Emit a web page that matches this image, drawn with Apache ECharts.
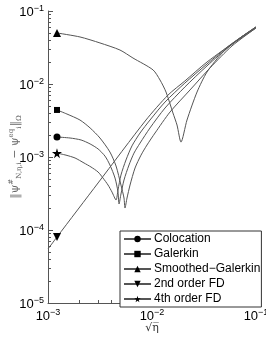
<!DOCTYPE html>
<html><head><meta charset="utf-8">
<script src="https://cdn.jsdelivr.net/npm/echarts@6/dist/echarts.min.js"></script>
<style>html,body{margin:0;padding:0;background:#fff}#c{width:266px;height:341px}</style>
</head><body><div id="c"></div>
<script>
// ---- data ----
const colocationX = [0.00122,0.00163,0.00208,0.00254,0.00303,0.00353,0.00394,0.00441,0.00471,0.00482,0.00503,0.00538,0.00601,0.00671,0.00767,0.00957,0.01334,0.0207,0.0338,0.0562,0.1];
const colocationY = [0.00188,0.00182,0.00171,0.00151,0.00129,0.00103,0.000777,0.000515,0.000332,0.000227,0.000311,0.000484,0.000777,0.00113,0.00155,0.00250,0.00469,0.0091,0.0177,0.0332,0.0585];

const galerkinX = [0.00122,0.00152,0.00203,0.00254,0.00316,0.00394,0.00451,0.00503,0.00538,0.00550,0.00575,0.00615,0.00687,0.00784,0.00895,0.01069,0.01490,0.0232,0.0361,0.0588,0.1];
const galerkinY = [0.00441,0.00388,0.00321,0.00250,0.00182,0.00117,0.000753,0.000413,0.000274,0.000200,0.000274,0.000413,0.000707,0.00106,0.00146,0.00213,0.00413,0.00828,0.0166,0.0332,0.0585];

const smoothedX = [0.00122,0.00203,0.00316,0.00492,0.00656,0.01023,0.01194,0.01364,0.0159,0.0174,0.0190,0.0217,0.0271,0.0338,0.0482,0.0702,0.1];
const smoothedY = [0.0500,0.0441,0.0365,0.0292,0.0227,0.0156,0.01135,0.00776,0.00401,0.00274,0.0016,0.00321,0.00776,0.0146,0.0274,0.0427,0.0604];

const fd2X = [0.001,0.00122,0.00303,0.00875,0.01426,0.0207,0.0338,0.0702,0.1];
const fd2Y = [0.0000549,0.0000802,0.000441,0.00321,0.00706,0.0110,0.0200,0.0427,0.0604];

const fd4X = [0.00122,0.00149,0.00182,0.00222,0.00259,0.00303,0.00338,0.00378,0.00412,0.00451,0.00471,0.00503,0.00562,0.00642,0.00767,0.00957,0.01334,0.0207,0.0338,0.0562,0.1];
const fd4Y = [0.00113,0.00106,0.000969,0.000828,0.00073,0.000623,0.000515,0.000413,0.000332,0.000258,0.000353,0.000566,0.00091,0.00142,0.00213,0.00321,0.00566,0.0103,0.0188,0.0342,0.0604];

const seriesNames = ['Colocation','Galerkin','Smoothed\u2212Galerkin','2nd order FD','4th order FD'];
const xTicks = [0.001, 0.01, 0.1];
const yTicks = [0.00001, 0.0001, 0.001, 0.01, 0.1];

// ---- helpers ----
const STAR = 'path://M50,0 L61,35 L98,35 L68,57 L79,91 L50,70 L21,91 L32,57 L2,35 L39,35 Z';
function makeData(xs, ys, markerIdx) {
  return xs.map((x, i) => i === markerIdx ? [x, ys[i]] : { value: [x, ys[i]], symbol: 'none' });
}
function minorValues(ticks) {
  const out = [];
  for (let k = 0; k < ticks.length - 1; k++) {
    for (let m = 2; m <= 9; m++) out.push(m * ticks[k]);
  }
  return out;
}
function expLabel(v) {
  const e = Math.round(Math.log10(v));
  return '{b|10}{s|' + (e < 0 ? '\u2212' + (-e) : e) + '}';
}
const labelRich = {
  b: { fontSize: 13, fontFamily: 'Liberation Sans, Arial, sans-serif', color: '#000', lineHeight: 16, verticalAlign: 'bottom' },
  s: { fontSize: 9, fontFamily: 'Liberation Sans, Arial, sans-serif', color: '#000', lineHeight: 16, verticalAlign: 'bottom', padding: [0, 0, 6, 0] }
};
const lineColor = '#555';
function lineSeries(name, xs, ys, markerIdx, symbol, size, rotate) {
  return {
    type: 'line', name: name, data: makeData(xs, ys, markerIdx),
    symbol: symbol, symbolSize: size, symbolRotate: rotate || 0, showAllSymbol: true,
    smooth: 0.25, lineStyle: { color: lineColor, width: 1 }, itemStyle: { color: '#000' },
    emphasis: { disabled: true }, z: 3
  };
}

const chart = echarts.init(document.getElementById('c'), null, { renderer: 'canvas' });
const yMin = yTicks[0], xMin = xTicks[0];
chart.setOption({
  animation: false,
  backgroundColor: '#fff',
  grid: { left: 48, right: 10, top: 11, bottom: 38, containLabel: false, outerBoundsMode: 'none' },
  legend: {
    data: seriesNames, orient: 'vertical', left: 120, top: 231,
    itemWidth: 27, itemHeight: 8, itemGap: 3, padding: [2, 1, 2, 3],
    borderColor: '#333', borderWidth: 1, backgroundColor: '#fff',
    textStyle: { fontSize: 12, lineHeight: 11, fontFamily: 'Liberation Sans, Arial, sans-serif', color: '#000', padding: [0, 0, 0, -2] },
    selectedMode: false, z: 10
  },
  xAxis: {
    type: 'log', logBase: 10, min: xTicks[0], max: xTicks[xTicks.length - 1],
    axisLine: { lineStyle: { color: '#555', width: 1 } },
    axisTick: { inside: true, length: 5, lineStyle: { color: '#555' } },
    splitLine: { show: false }, minorTick: { show: false },
    axisLabel: { formatter: expLabel, rich: labelRich, margin: 4 },
    name: '\u221A\u03B7\u0305', nameLocation: 'middle', nameGap: 20, nameMoveOverlap: false,
    nameTextStyle: { fontSize: 11, fontFamily: 'DejaVu Serif, serif', color: '#333' }
  },
  yAxis: {
    type: 'log', logBase: 10, min: yTicks[0], max: yTicks[yTicks.length - 1],
    axisLine: { lineStyle: { color: '#555', width: 1 } },
    axisTick: { inside: true, length: 5, lineStyle: { color: '#555' } },
    splitLine: { show: false }, minorTick: { show: false },
    axisLabel: { formatter: expLabel, rich: labelRich, margin: 4 },
    name: '{n|\u2016\u03C8}{p|#}{q|N,\u03B7,i}{n| \u2212 \u03C8}{p|eq}{q|i}{n|\u2016}{q|\u03A9}',
    nameLocation: 'middle', nameGap: 27, nameMoveOverlap: false,
    nameTextStyle: {
      rich: {
        n: { fontSize: 11, fontFamily: 'DejaVu Serif, serif', color: '#666', lineHeight: 14, verticalAlign: 'bottom' },
        p: { fontSize: 7, fontFamily: 'DejaVu Serif, serif', color: '#666', lineHeight: 14, verticalAlign: 'bottom', padding: [0, 0, 6, 0] },
        q: { fontSize: 7, fontFamily: 'DejaVu Serif, serif', color: '#666', lineHeight: 14, verticalAlign: 'bottom', padding: [0, 0, -2, 0] }
      }
    }
  },
  series: [
    lineSeries(seriesNames[0], colocationX, colocationY, 0, 'circle', 7),
    lineSeries(seriesNames[1], galerkinX, galerkinY, 0, 'rect', 6),
    lineSeries(seriesNames[2], smoothedX, smoothedY, 0, 'triangle', 8),
    lineSeries(seriesNames[3], fd2X, fd2Y, 1, 'triangle', 8, 180),
    lineSeries(seriesNames[4], fd4X, fd4Y, 0, STAR, 10),
    {
      type: 'custom', silent: true, z: 2, clip: false,
      data: minorValues(xTicks).map(v => [v, yMin]),
      renderItem: function (params, api) {
        const p = api.coord([api.value(0), api.value(1)]);
        const x = Math.round(p[0]) + 0.5;
        return { type: 'line', shape: { x1: x, y1: p[1], x2: x, y2: p[1] - 3 }, style: { stroke: '#555', lineWidth: 1 } };
      }
    },
    {
      type: 'custom', silent: true, z: 2, clip: false,
      data: minorValues(yTicks).map(v => [xMin, v]),
      renderItem: function (params, api) {
        const p = api.coord([api.value(0), api.value(1)]);
        const y = Math.round(p[1]) + 0.5;
        return { type: 'line', shape: { x1: p[0], y1: y, x2: p[0] + 3, y2: y }, style: { stroke: '#555', lineWidth: 1 } };
      }
    }
  ]
});
</script>
</body></html>
